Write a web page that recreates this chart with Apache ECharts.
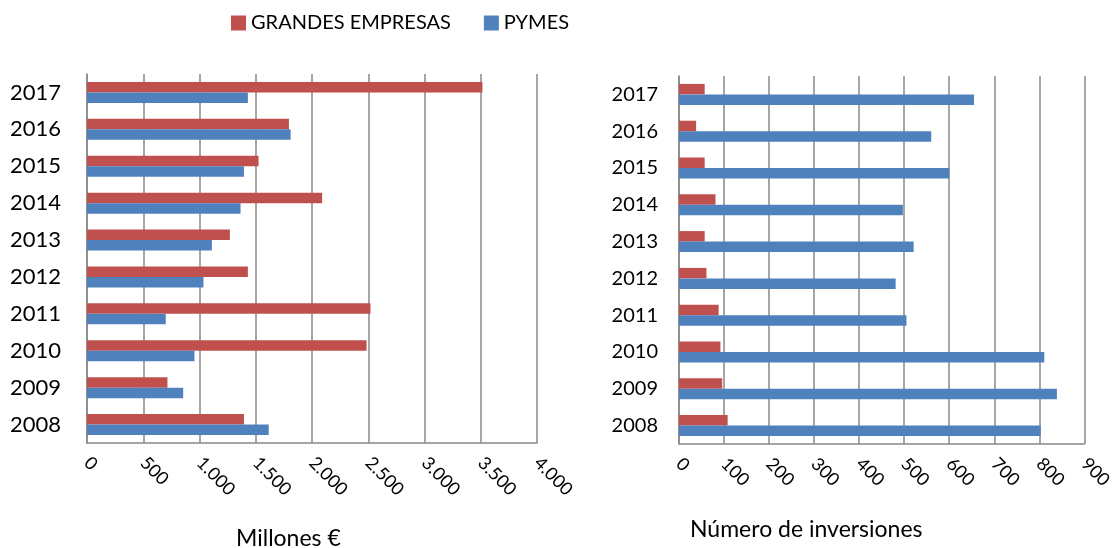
<!DOCTYPE html>
<html>
<head>
<meta charset="utf-8">
<script src="https://cdn.jsdelivr.net/npm/echarts@6/dist/echarts.min.js"></script>
<style>
  html, body { margin: 0; padding: 0; background: #fff; }
  #chart { width: 1115px; height: 548px; }
</style>
</head>
<body>
<div id="chart"></div>
<script>
// años (de abajo a arriba)
var years = ['2008', '2009', '2010', '2011', '2012', '2013', '2014', '2015', '2016', '2017'];

// Millones €
var grandesMillones = [1395, 715, 2485, 2520, 1430, 1270, 2090, 1525, 1795, 3515];
var pymesMillones = [1615, 855, 955, 700, 1035, 1110, 1365, 1395, 1810, 1430];

// Número de inversiones
var grandesNum = [108, 96, 92, 88, 61, 57, 81, 57, 38, 57];
var pymesNum = [803, 839, 811, 505, 481, 521, 497, 600, 560, 655];

var leftTicks = { min: 0, max: 4000, interval: 500 };
var rightTicks = { min: 0, max: 900, interval: 100 };

var RED = '#C0504D';
var BLUE = '#4F81BD';
var GRID = '#888888';
var FONT = 'Lato';

function miles(v) {
  return String(v).replace(/\B(?=(\d{3})+(?!\d))/g, '.');
}

var chart = echarts.init(document.getElementById('chart'));

var valueAxis = function (idx, t) {
  return {
    type: 'value',
    gridIndex: idx,
    min: t.min, max: t.max, interval: t.interval,
    axisLine: { show: true, lineStyle: { color: GRID, width: 1.5 } },
    axisTick: { show: false },
    splitLine: { show: true, lineStyle: { color: GRID, width: 1.5 } },
    axisLabel: {
      rotate: -45,
      margin: 17,
      color: '#000',
      fontFamily: FONT,
      fontSize: 18,
      formatter: miles
    }
  };
};

var catAxis = function (idx, size, margin) {
  return {
    type: 'category',
    gridIndex: idx,
    data: years,
    axisLine: { show: true, lineStyle: { color: GRID, width: 1.5 } },
    axisTick: { show: false },
    axisLabel: { color: '#000', fontFamily: FONT, fontSize: size, margin: margin }
  };
};

var nameStyle = { fontFamily: FONT, fontSize: 23, fontWeight: 'normal', color: '#000' };

chart.setOption({
  backgroundColor: '#fff',
  animation: false,
  textStyle: { fontFamily: FONT },
  title: [
    { text: 'Millones €', left: 231, top: 522, textStyle: nameStyle },
    { text: 'Número de inversiones', left: 685, top: 513, textStyle: nameStyle }
  ],
  legend: {
    data: ['GRANDES EMPRESAS', 'PYMES'],
    left: 226, top: 8,
    itemWidth: 15, itemHeight: 15, itemGap: 33,
    icon: 'rect',
    textStyle: { fontFamily: FONT, fontSize: 20, color: '#000' }
  },
  grid: [
    { left: 87, right: 578, top: 74, bottom: 105 },
    { left: 679, right: 24, top: 76, bottom: 104 }
  ],
  xAxis: [valueAxis(0, leftTicks), valueAxis(1, rightTicks)],
  yAxis: [catAxis(0, 22, 26), catAxis(1, 20, 21)],
  series: [
    { name: 'GRANDES EMPRESAS', type: 'bar', xAxisIndex: 0, yAxisIndex: 0, data: grandesMillones, barWidth: 10.5, barGap: '0%', itemStyle: { color: RED } },
    { name: 'PYMES', type: 'bar', xAxisIndex: 0, yAxisIndex: 0, data: pymesMillones, barWidth: 10.5, barGap: '0%', itemStyle: { color: BLUE } },
    { name: 'GRANDES EMPRESAS', type: 'bar', xAxisIndex: 1, yAxisIndex: 1, data: grandesNum, barWidth: 10.5, barGap: '0%', itemStyle: { color: RED } },
    { name: 'PYMES', type: 'bar', xAxisIndex: 1, yAxisIndex: 1, data: pymesNum, barWidth: 10.5, barGap: '0%', itemStyle: { color: BLUE } }
  ]
});
</script>
</body>
</html>
